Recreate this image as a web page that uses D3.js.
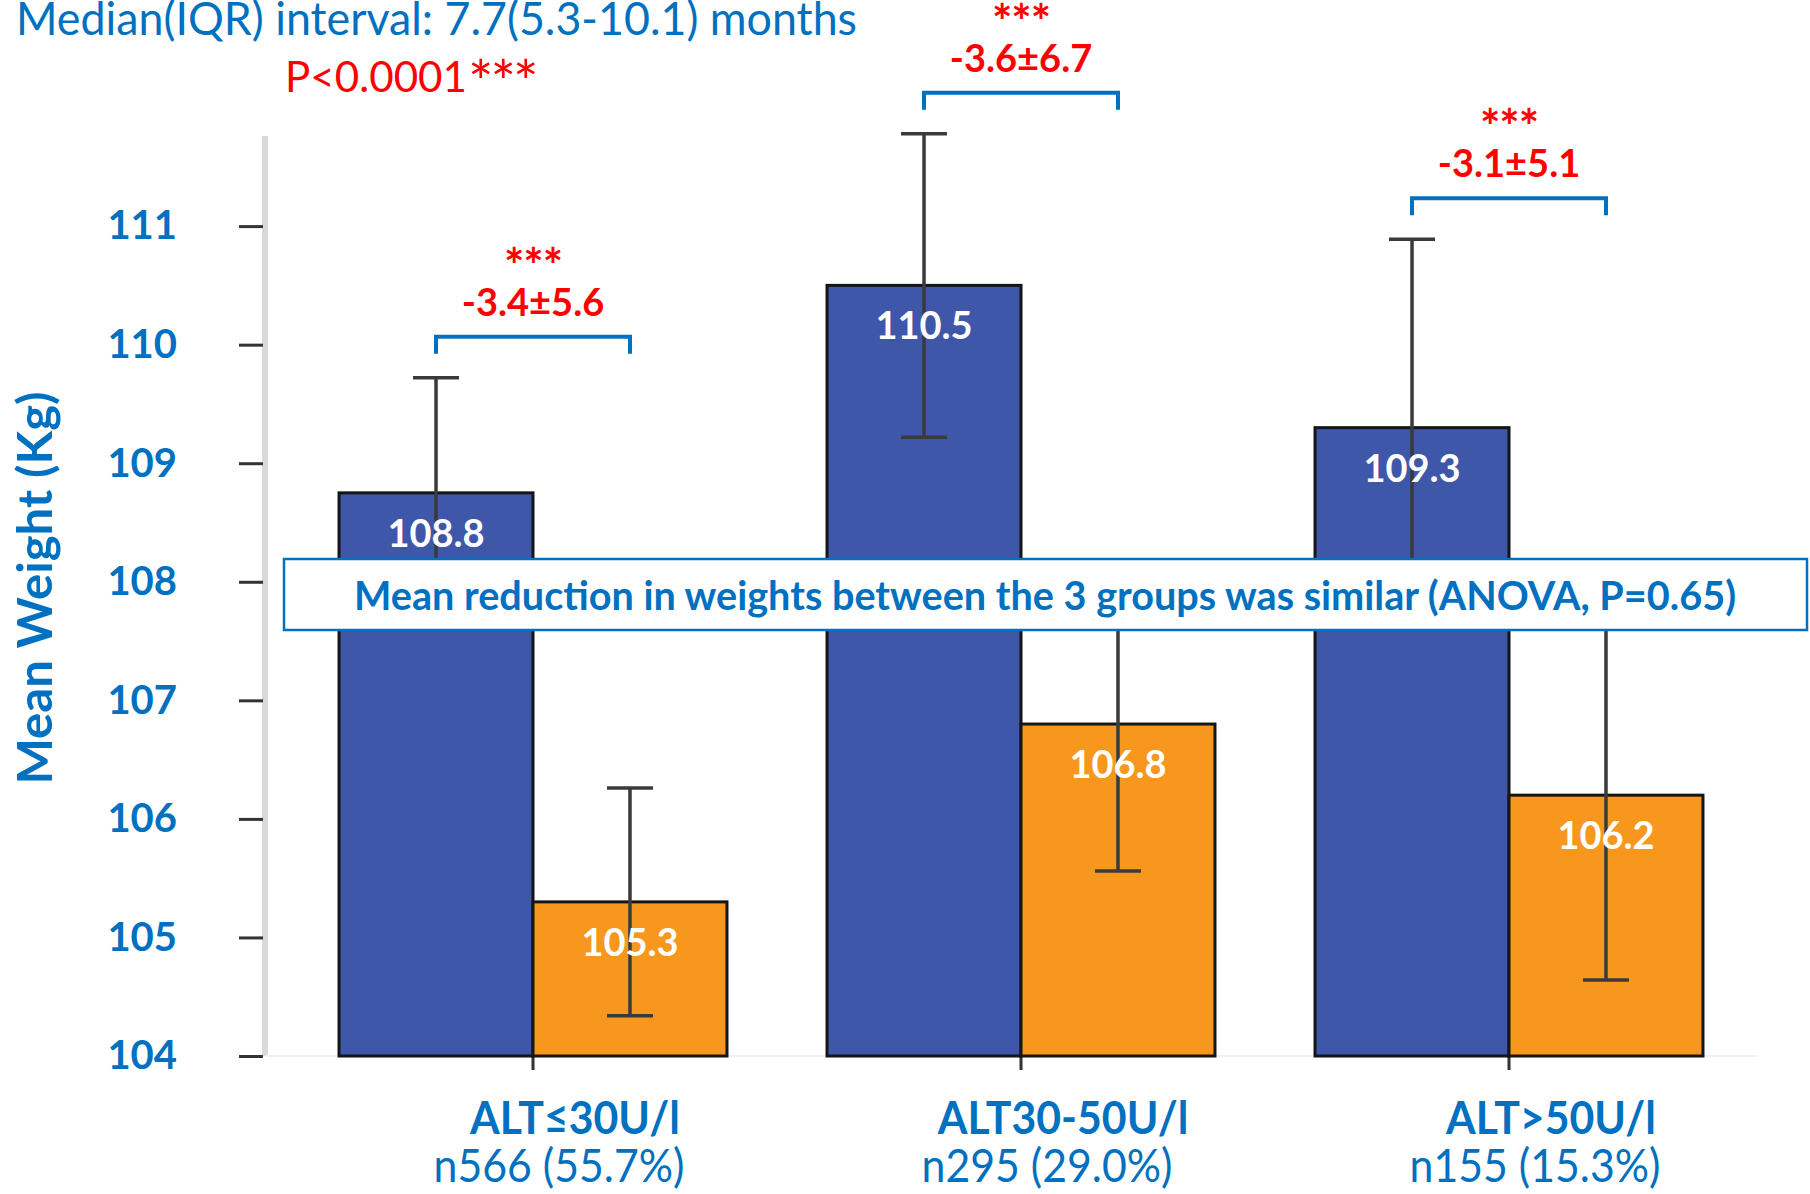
<!DOCTYPE html>
<html>
<head>
<meta charset="utf-8">
<script src="https://cdn.jsdelivr.net/npm/d3@7"></script>
<style>
  body { margin: 0; background: #fff; }
  svg { display: block; font-family: Lato, "Open Sans", sans-serif; }
</style>
</head>
<body>
<svg id="chart" width="1810" height="1194"></svg>
<script>
// values
const groups = ["ALT≤30U/l", "ALT30-50U/l", "ALT>50U/l"];
const groupCounts = ["n566 (55.7%)", "n295 (29.0%)", "n155 (15.3%)"];
const seriesNames = ["before", "after"];
const beforeMean = [108.75, 110.5, 109.3];
const beforeErr = [0.97, 1.28, 1.59];
const afterMean = [105.3, 106.8, 106.2];
const afterErr = [0.96, 1.24, 1.56];
const changeLabels = ["-3.4±5.6", "-3.6±6.7", "-3.1±5.1"];
const changeStars = ["***", "***", "***"];
const yTicks = [104, 105, 106, 107, 108, 109, 110, 111];

const titleText = "Median(IQR) interval: 7.7(5.3-10.1) months";
const pValue = "P<0.0001";
const pStars = "***";
const anovaText = "Mean reduction in weights between the 3 groups was similar (ANOVA, P=0.65)";
const yTitle = "Mean Weight (Kg)";

const blue = "#0070c0", red = "#ff0000";
const fills = { before: "#3f57a8", after: "#f7971e" };

const svg = d3.select("#chart");

const x = d3.scaleBand().domain(groups).range([289, 1753])
  .paddingInner(0.205).paddingOuter(0.1025);
const xs = d3.scaleBand().domain(seriesNames).range([0, x.bandwidth()]);
const y = d3.scaleLinear().domain([104, 111.76]).range([1056, 136]);

const rows = groups.map((g, i) => ({
  group: g, i,
  vals: [
    { key: "before", mean: beforeMean[i], err: beforeErr[i] },
    { key: "after", mean: afterMean[i], err: afterErr[i] }
  ]
}));

// squeeze text a bit, the original font is narrower than Lato
function squeeze(sel, k) {
  sel.each(function() {
    const w = this.getComputedTextLength();
    d3.select(this).attr("textLength", w * k).attr("lengthAdjust", "spacingAndGlyphs");
  });
}

// axes
svg.append("line")
  .attr("x1", 265).attr("x2", 265).attr("y1", 136).attr("y2", 1056)
  .attr("stroke", "#d9d9d9").attr("stroke-width", 6);

svg.append("line")
  .attr("x1", 265).attr("x2", 1757).attr("y1", 1056).attr("y2", 1056)
  .attr("stroke", "#f0f0f0").attr("stroke-width", 2);

const yAxis = svg.append("g")
  .attr("transform", "translate(263,0)")
  .call(d3.axisLeft(y).tickValues(yTicks).tickSize(24).tickPadding(62).tickFormat(d3.format("d")));
yAxis.select(".domain").remove();
yAxis.selectAll(".tick line").attr("stroke", "#333").attr("stroke-width", 3);
yAxis.selectAll(".tick text")
  .attr("fill", blue).attr("font-size", 40).attr("font-weight", 700)
  .attr("font-family", "Lato, sans-serif");

const xAxis = svg.append("g")
  .attr("transform", "translate(0,1056)")
  .call(d3.axisBottom(x).tickSize(14).tickFormat(""));
xAxis.select(".domain").remove();
xAxis.selectAll(".tick line").attr("stroke", "#333").attr("stroke-width", 3);

// bars
const g = svg.append("g").selectAll("g").data(rows).join("g")
  .attr("transform", d => `translate(${x(d.group)},0)`);

g.selectAll("rect").data(d => d.vals).join("rect")
  .attr("x", d => xs(d.key))
  .attr("y", d => y(d.mean))
  .attr("width", xs.bandwidth())
  .attr("height", d => y(104) - y(d.mean))
  .attr("fill", d => fills[d.key])
  .attr("stroke", "#151515").attr("stroke-width", 3);

// error bars
const eb = g.selectAll("g.err").data(d => d.vals).join("g").attr("class", "err")
  .attr("stroke", "#3a3a3a").attr("stroke-width", 3.5);
const cx = d => xs(d.key) + xs.bandwidth() / 2;
eb.append("line")
  .attr("x1", cx).attr("x2", cx)
  .attr("y1", d => y(d.mean + d.err)).attr("y2", d => y(d.mean - d.err));
eb.append("line")
  .attr("x1", d => cx(d) - 23).attr("x2", d => cx(d) + 23)
  .attr("y1", d => y(d.mean + d.err)).attr("y2", d => y(d.mean + d.err));
eb.append("line")
  .attr("x1", d => cx(d) - 23).attr("x2", d => cx(d) + 23)
  .attr("y1", d => y(d.mean - d.err)).attr("y2", d => y(d.mean - d.err));

// value labels
g.selectAll("text.val").data(d => d.vals).join("text").attr("class", "val")
  .attr("x", cx)
  .attr("y", d => y(d.mean) + 54)
  .attr("text-anchor", "middle")
  .attr("fill", "#fff").attr("font-size", 38).attr("font-weight", 700)
  .text(d => d.mean.toFixed(1));

// change brackets
rows.forEach(r => {
  const x1 = x(r.group) + xs("before") + xs.bandwidth() / 2;
  const x2 = x(r.group) + xs("after") + xs.bandwidth() / 2;
  const by = y(beforeMean[r.i] + beforeErr[r.i]) - 41;
  svg.append("path")
    .attr("d", `M${x1},${by + 17}V${by}H${x2}V${by + 17}`)
    .attr("fill", "none").attr("stroke", blue).attr("stroke-width", 4);
  svg.append("text")
    .attr("x", (x1 + x2) / 2).attr("y", by - 21)
    .attr("text-anchor", "middle").attr("fill", red)
    .attr("font-size", 38).attr("font-weight", 700)
    .text(changeLabels[r.i]);
  svg.append("text")
    .attr("x", (x1 + x2) / 2).attr("y", by - 54)
    .attr("text-anchor", "middle").attr("fill", red)
    .attr("font-size", 48).attr("font-weight", 700)
    .attr("letter-spacing", -1)
    .text(changeStars[r.i]);
});

// category labels
svg.append("g").selectAll("text").data(groups).join("text")
  .attr("x", d => x(d) + x.bandwidth() / 2 + 42)
  .attr("y", 1134)
  .attr("text-anchor", "middle").attr("fill", blue)
  .attr("font-size", 46).attr("font-weight", 700)
  .text(d => d)
  .call(squeeze, 0.93);

svg.append("g").selectAll("text").data(groupCounts).join("text")
  .attr("x", (d, i) => x(groups[i]) + x.bandwidth() / 2 + 26)
  .attr("y", 1182)
  .attr("text-anchor", "middle").attr("fill", blue)
  .attr("font-size", 46)
  .text(d => d)
  .call(squeeze, 0.93);

// y title
svg.append("text")
  .attr("transform", "translate(52,588) rotate(-90)")
  .attr("text-anchor", "middle").attr("fill", blue)
  .attr("font-size", 48).attr("font-weight", 700)
  .attr("textLength", 393).attr("lengthAdjust", "spacingAndGlyphs")
  .text(yTitle);

// header texts
svg.append("text")
  .attr("x", 16).attr("y", 35)
  .attr("fill", blue).attr("font-size", 46)
  .attr("textLength", 841).attr("lengthAdjust", "spacingAndGlyphs")
  .text(titleText);

svg.append("text")
  .attr("x", 285).attr("y", 92)
  .attr("fill", red).attr("font-size", 43)
  .attr("textLength", 182).attr("lengthAdjust", "spacingAndGlyphs")
  .text(pValue);
svg.append("text")
  .attr("x", 468).attr("y", 104)
  .attr("fill", red).attr("font-size", 60)
  .attr("letter-spacing", -3)
  .text(pStars);

// ANOVA box
svg.append("rect")
  .attr("x", 284).attr("y", 559).attr("width", 1523).attr("height", 71)
  .attr("fill", "#fff").attr("stroke", blue).attr("stroke-width", 2.5);
svg.append("text")
  .attr("x", 1045).attr("y", 610)
  .attr("text-anchor", "middle").attr("fill", blue)
  .attr("font-size", 40).attr("font-weight", 700)
  .attr("textLength", 1382).attr("lengthAdjust", "spacingAndGlyphs")
  .text(anovaText);
</script>
</body>
</html>
